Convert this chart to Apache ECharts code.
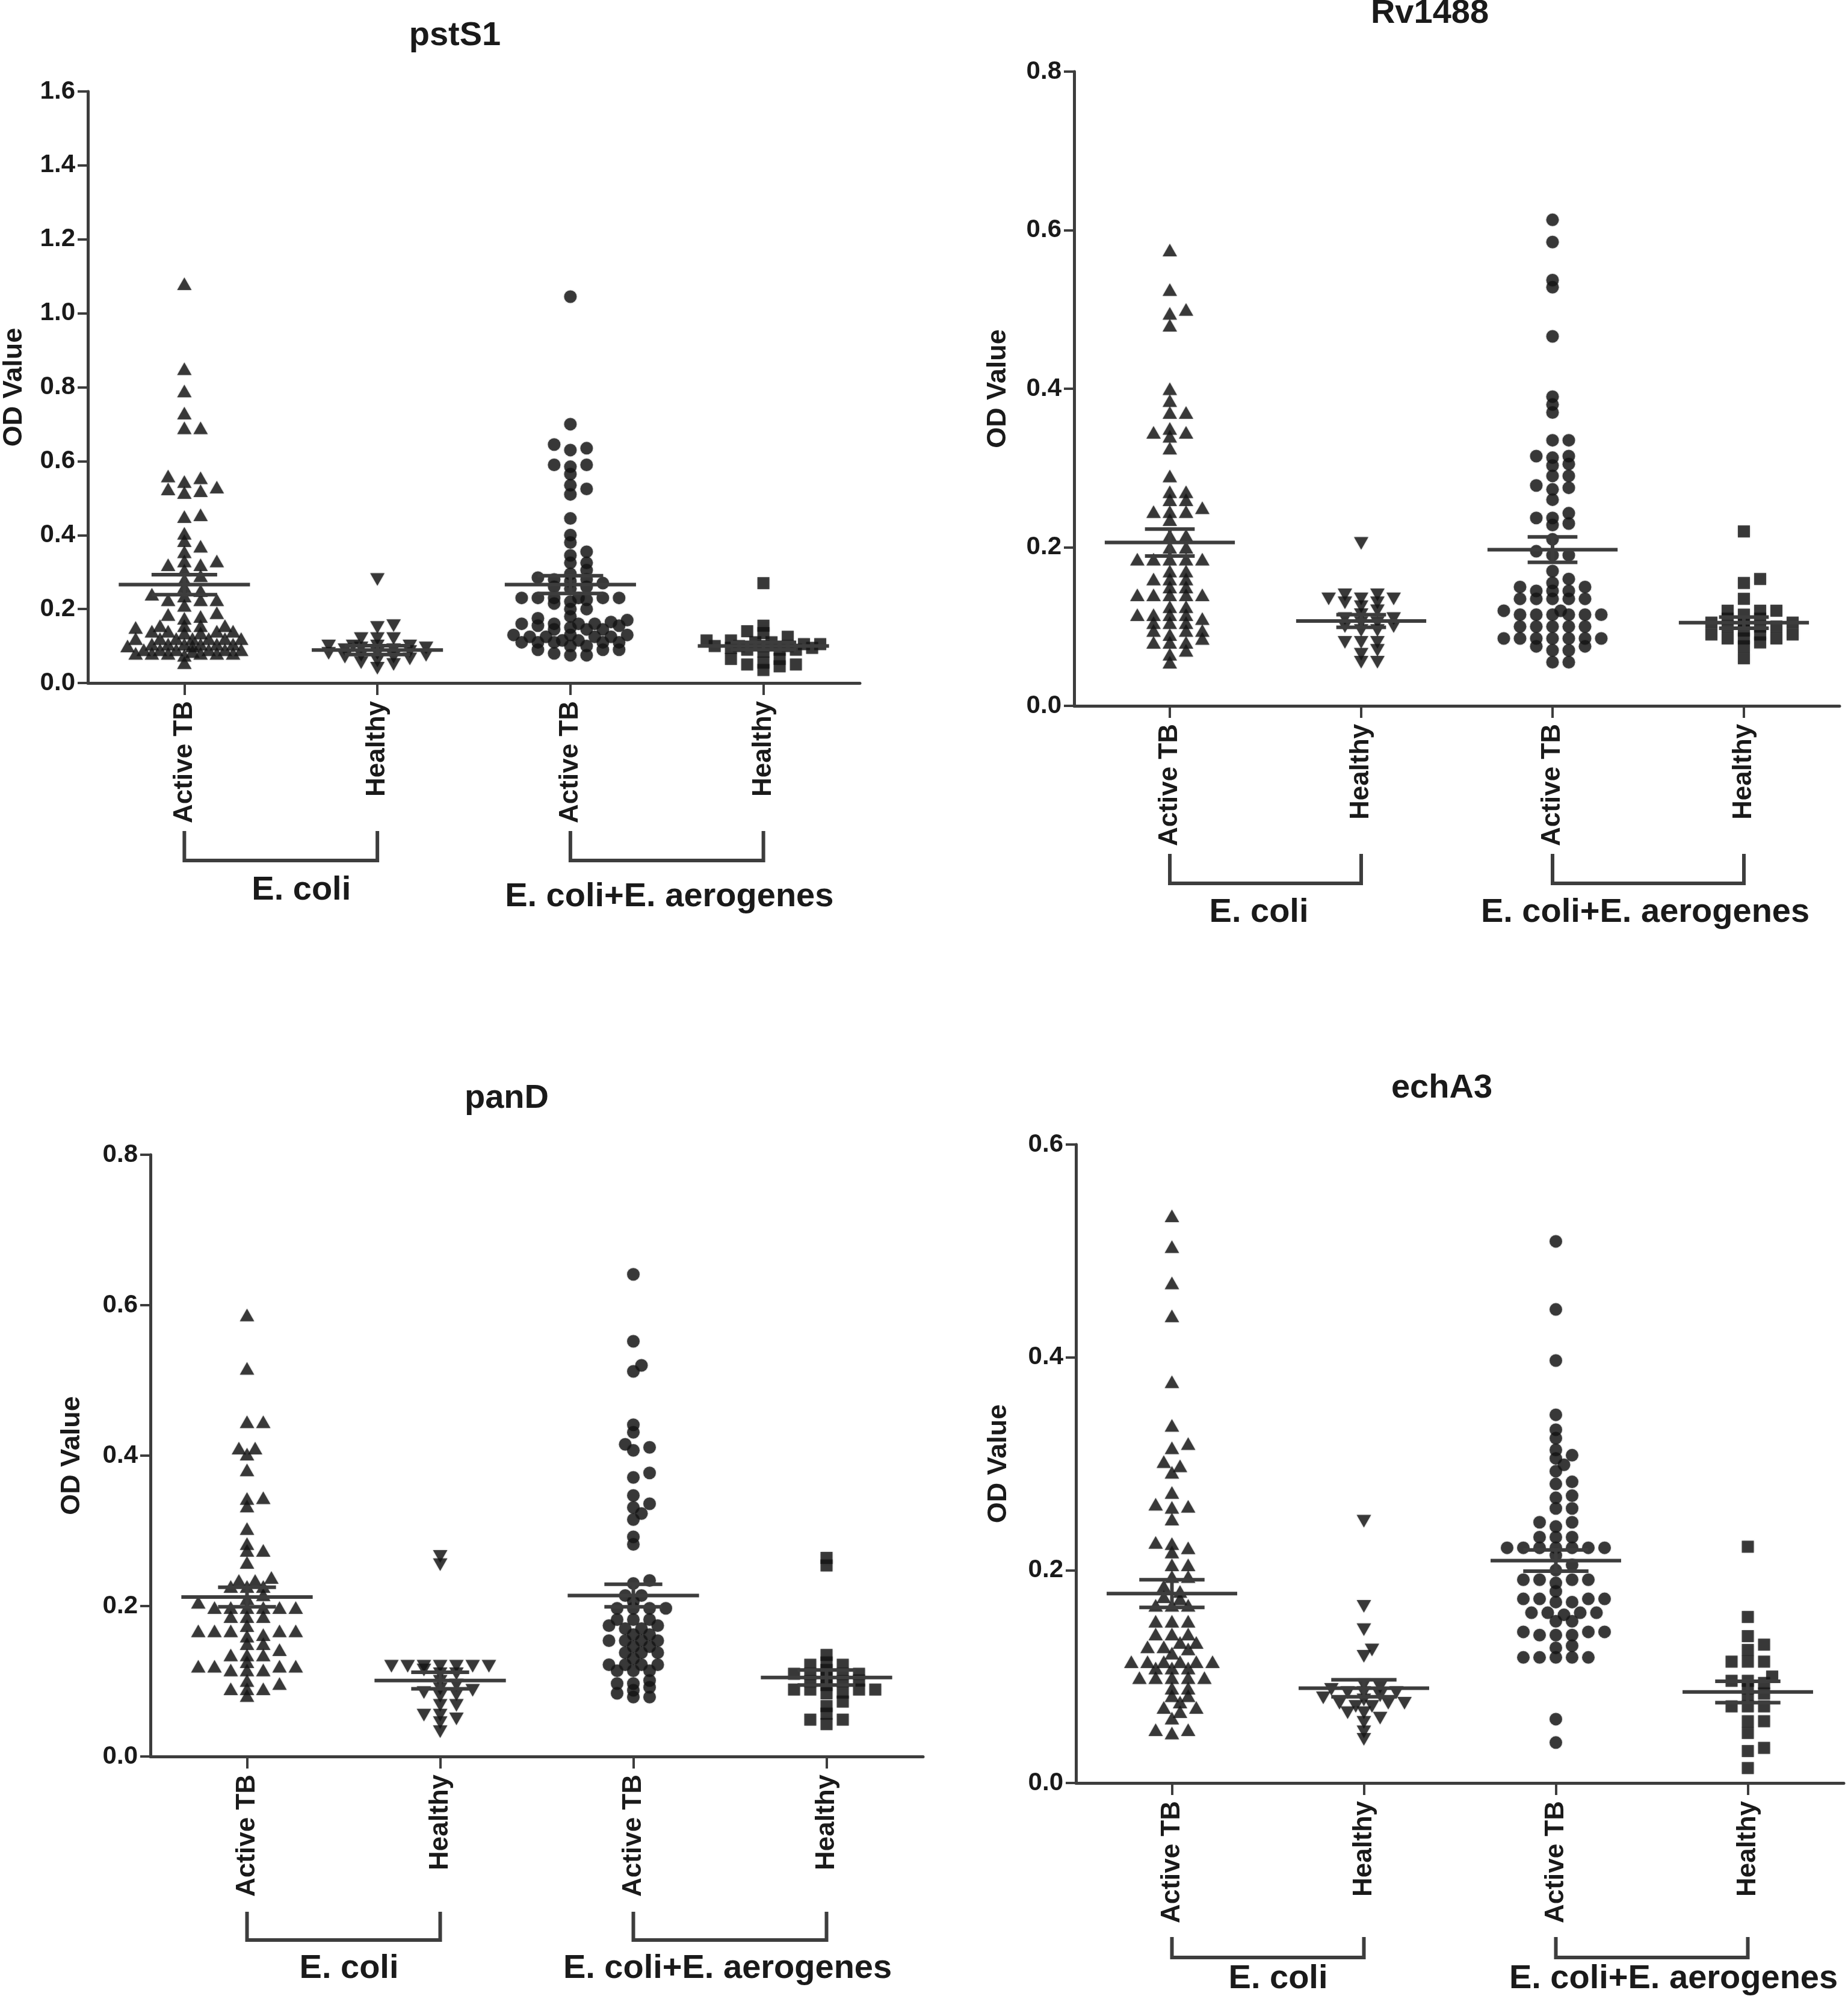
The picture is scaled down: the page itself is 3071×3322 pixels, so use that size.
<!DOCTYPE html>
<html><head><meta charset="utf-8">
<script src="https://cdn.jsdelivr.net/npm/echarts@6/dist/echarts.min.js"></script>
<style>html,body{margin:0;padding:0;background:#fff}#c{width:3071px;height:3322px}</style>
</head><body><div id="c"></div>
<script>
// ---------------- DATA ----------------
const categories = ['Active TB', 'Healthy', 'Active TB', 'Healthy'];
const groupLabels = ['E. coli', 'E. coli+E. aerogenes'];
const panelTitles = ['pstS1', 'Rv1488', 'panD', 'echA3'];
const yAxisName = 'OD Value';
const yMaxes = [1.6, 0.8, 0.8, 0.6];
const yInterval = 0.2;

// pstS1
const pstS1_activeEcoli = [1.08,0.85,0.79,0.73,0.69,0.69,0.56,0.555,0.545,0.53,0.525,0.515,0.52,0.455,0.45,0.405,0.385,0.37,0.355,0.33,0.33,0.32,0.32,0.305,0.29,0.28,0.26,0.25,0.24,0.235,0.225,0.225,0.225,0.21,0.19,0.185,0.18,0.175,0.155,0.155,0.155,0.155,0.15,0.14,0.14,0.14,0.14,0.135,0.135,0.12,0.12,0.12,0.12,0.12,0.12,0.12,0.105,0.105,0.105,0.105,0.105,0.105,0.1,0.1,0.09,0.09,0.09,0.09,0.09,0.09,0.085,0.08,0.08,0.08,0.08,0.08,0.08,0.075,0.055];
const pstS1_healthyEcoli = [0.28,0.155,0.15,0.12,0.12,0.12,0.1,0.1,0.1,0.1,0.095,0.095,0.09,0.09,0.085,0.08,0.08,0.075,0.075,0.07,0.07,0.065,0.06,0.055,0.05,0.04];
const pstS1_activeMix = [1.045,0.70,0.645,0.635,0.63,0.59,0.585,0.59,0.565,0.535,0.525,0.51,0.445,0.40,0.38,0.355,0.345,0.325,0.325,0.305,0.295,0.285,0.28,0.28,0.275,0.27,0.26,0.26,0.255,0.23,0.23,0.23,0.23,0.225,0.23,0.23,0.22,0.215,0.2,0.2,0.18,0.175,0.17,0.165,0.16,0.16,0.16,0.16,0.155,0.155,0.15,0.145,0.145,0.145,0.13,0.13,0.13,0.125,0.125,0.125,0.125,0.115,0.115,0.11,0.11,0.11,0.11,0.11,0.1,0.1,0.09,0.09,0.09,0.08,0.075,0.075];
const pstS1_healthyMix = [0.27,0.155,0.14,0.135,0.125,0.115,0.115,0.11,0.11,0.105,0.105,0.1,0.1,0.1,0.1,0.095,0.095,0.09,0.09,0.09,0.085,0.065,0.065,0.055,0.05,0.05,0.045,0.035];
const pstS1_mean = [0.266, 0.089, 0.266, 0.100];
const pstS1_sem = [0.027, 0.012, 0.024, 0.010];

// Rv1488
const rv1488_activeEcoli = [0.575,0.525,0.495,0.5,0.48,0.40,0.385,0.37,0.37,0.345,0.35,0.34,0.345,0.325,0.29,0.27,0.27,0.26,0.26,0.245,0.245,0.245,0.25,0.235,0.215,0.215,0.2,0.2,0.185,0.185,0.185,0.185,0.185,0.17,0.17,0.16,0.16,0.16,0.15,0.15,0.14,0.14,0.14,0.14,0.14,0.125,0.125,0.115,0.115,0.115,0.115,0.11,0.105,0.105,0.105,0.095,0.095,0.095,0.09,0.085,0.08,0.08,0.08,0.07,0.065,0.055];
const rv1488_healthyEcoli = [0.205,0.14,0.135,0.135,0.13,0.13,0.135,0.14,0.125,0.12,0.115,0.11,0.11,0.105,0.105,0.1,0.1,0.095,0.095,0.08,0.08,0.08,0.07,0.065,0.055,0.055];
const rv1488_activeMix = [0.613,0.585,0.528,0.537,0.466,0.39,0.38,0.37,0.335,0.335,0.315,0.315,0.313,0.305,0.303,0.29,0.29,0.275,0.278,0.273,0.26,0.237,0.237,0.243,0.228,0.23,0.21,0.19,0.19,0.195,0.17,0.16,0.155,0.15,0.15,0.145,0.145,0.145,0.135,0.135,0.135,0.135,0.135,0.12,0.12,0.115,0.115,0.115,0.115,0.115,0.115,0.1,0.1,0.1,0.1,0.1,0.085,0.085,0.085,0.085,0.085,0.085,0.085,0.075,0.075,0.07,0.07,0.055,0.055];
const rv1488_healthyMix = [0.22,0.16,0.155,0.135,0.12,0.12,0.12,0.115,0.11,0.11,0.105,0.105,0.105,0.1,0.1,0.1,0.095,0.09,0.09,0.09,0.085,0.085,0.085,0.08,0.075,0.06];
const rv1488_mean = [0.206, 0.107, 0.197, 0.105];
const rv1488_sem = [0.017, 0.008, 0.016, 0.007];

// panD
const panD_activeEcoli = [0.587,0.516,0.445,0.445,0.41,0.41,0.402,0.381,0.343,0.344,0.333,0.303,0.274,0.274,0.283,0.258,0.238,0.234,0.234,0.226,0.226,0.226,0.215,0.21,0.205,0.198,0.198,0.198,0.198,0.198,0.198,0.186,0.186,0.186,0.174,0.167,0.167,0.167,0.167,0.167,0.162,0.16,0.15,0.15,0.142,0.135,0.135,0.135,0.126,0.12,0.12,0.12,0.12,0.115,0.115,0.115,0.097,0.101,0.09,0.09,0.09,0.081];
const panD_healthyEcoli = [0.266,0.255,0.12,0.12,0.12,0.12,0.12,0.12,0.12,0.115,0.11,0.11,0.1,0.095,0.09,0.088,0.085,0.082,0.08,0.068,0.068,0.055,0.055,0.05,0.045,0.033];
const panD_activeMix = [0.641,0.552,0.52,0.512,0.441,0.431,0.415,0.407,0.411,0.377,0.371,0.347,0.336,0.331,0.323,0.315,0.292,0.282,0.234,0.23,0.214,0.214,0.206,0.197,0.197,0.197,0.197,0.182,0.182,0.182,0.174,0.174,0.17,0.17,0.162,0.162,0.154,0.154,0.154,0.154,0.146,0.146,0.138,0.138,0.138,0.13,0.122,0.122,0.122,0.122,0.114,0.114,0.114,0.101,0.097,0.097,0.092,0.088,0.084,0.079,0.079];
const panD_healthyMix = [0.264,0.254,0.135,0.125,0.122,0.122,0.115,0.11,0.11,0.11,0.11,0.105,0.101,0.1,0.1,0.095,0.089,0.089,0.089,0.089,0.085,0.084,0.073,0.067,0.057,0.049,0.049,0.043];
const panD_mean = [0.212, 0.101, 0.214, 0.105];
const panD_sem = [0.013, 0.011, 0.015, 0.010];

// echA3
const echA3_activeEcoli = [0.533,0.504,0.47,0.439,0.377,0.336,0.319,0.315,0.302,0.298,0.292,0.273,0.259,0.26,0.262,0.248,0.225,0.226,0.221,0.217,0.205,0.205,0.194,0.194,0.185,0.18,0.173,0.175,0.167,0.167,0.167,0.152,0.152,0.152,0.14,0.14,0.14,0.132,0.132,0.126,0.128,0.128,0.122,0.114,0.114,0.114,0.114,0.114,0.114,0.108,0.108,0.108,0.099,0.099,0.099,0.099,0.099,0.089,0.089,0.082,0.082,0.076,0.071,0.071,0.067,0.061,0.05,0.05,0.047];
const echA3_healthyEcoli = [0.246,0.166,0.144,0.125,0.119,0.092,0.09,0.088,0.085,0.085,0.085,0.082,0.08,0.078,0.075,0.075,0.075,0.072,0.072,0.066,0.066,0.061,0.057,0.048,0.041];
const echA3_activeMix = [0.509,0.445,0.397,0.346,0.332,0.324,0.308,0.305,0.313,0.299,0.293,0.283,0.281,0.27,0.268,0.258,0.258,0.245,0.245,0.241,0.231,0.231,0.231,0.221,0.221,0.221,0.221,0.221,0.221,0.221,0.214,0.205,0.2,0.191,0.191,0.191,0.191,0.188,0.18,0.173,0.173,0.173,0.173,0.17,0.17,0.16,0.16,0.16,0.16,0.158,0.152,0.152,0.142,0.142,0.142,0.139,0.139,0.139,0.129,0.127,0.118,0.118,0.118,0.118,0.118,0.06,0.038];
const echA3_healthyMix = [0.222,0.156,0.138,0.13,0.125,0.114,0.114,0.114,0.1,0.096,0.096,0.094,0.089,0.084,0.08,0.072,0.072,0.072,0.058,0.058,0.047,0.033,0.03,0.014];
const echA3_mean = [0.178, 0.089, 0.209, 0.0855];
const echA3_sem = [0.013, 0.008, 0.010, 0.010];

// ---------------- LAYOUT / STYLE ----------------
const FONT = '"Liberation Sans", Arial, Helvetica, sans-serif';
const TXT = '#1a1a1a';
const AX = '#3d3d3d';
const PT = '#151515';

const panels = [
  { title: panelTitles[0], yMax: yMaxes[0], groups: [pstS1_activeEcoli, pstS1_healthyEcoli, pstS1_activeMix, pstS1_healthyMix], mean: pstS1_mean, sem: pstS1_sem },
  { title: panelTitles[1], yMax: yMaxes[1], groups: [rv1488_activeEcoli, rv1488_healthyEcoli, rv1488_activeMix, rv1488_healthyMix], mean: rv1488_mean, sem: rv1488_sem },
  { title: panelTitles[2], yMax: yMaxes[2], groups: [panD_activeEcoli, panD_healthyEcoli, panD_activeMix, panD_healthyMix], mean: panD_mean, sem: panD_sem },
  { title: panelTitles[3], yMax: yMaxes[3], groups: [echA3_activeEcoli, echA3_healthyEcoli, echA3_activeMix, echA3_healthyMix], mean: echA3_mean, sem: echA3_sem }
];

const layout = [
  { left: 145, catW: 321, top: 152, y0: 1135, title: [756, 60], nameGap: 100, brk: [246, 295], lab: [[34, 345], [4, 356]], whisk: 0.17 },
  { left: 1785, catW: 318, top: 119, y0: 1173, title: [2376, 23], nameGap: 104, brk: [246, 295], lab: [[-11, 344], [-5, 344]], whisk: 0.13 },
  { left: 250, catW: 321, top: 1919, y0: 2919, title: [842, 1826], nameGap: 108, brk: [258, 305], lab: [[9, 353], [-4, 353]], whisk: 0.15 },
  { left: 1788, catW: 319, top: 1902, y0: 2963, title: [2396, 1809], nameGap: 106, brk: [256, 290], lab: [[17, 326], [36, 326]], whisk: 0.17 }
];

const symbols = ['triangle', 'triangle', 'circle', 'rect'];
const symRot = [0, 180, 0, 0];
const symSize = [[24, 21], [24, 21], 21, 20];

// beeswarm offsets (layout only), returned in category units
function swarm(values, pxPerVal, catW) {
  const sx = 27, sy = 11, maxOff = 0.3 * catW;
  const order = values.map((v, i) => i).sort((a, b) => values[a] - values[b]);
  const placed = [];
  const out = new Array(values.length).fill(0);
  const cands = [0];
  for (let k = 1; k * sx / 2 <= maxOff; k++) { cands.push(k * sx / 2); cands.push(-k * sx / 2); }
  for (const i of order) {
    const y = values[i] * pxPerVal;
    let best = 0, bestScore = Infinity;
    for (const off of cands) {
      let worst = 0;
      for (const p of placed) {
        const dx = (p.x - off) / sx, dy = (p.y - y) / sy;
        const d2 = dx * dx + dy * dy;
        if (d2 < 0.999) worst = Math.max(worst, 1 - d2);
      }
      if (worst === 0) { best = off; bestScore = 0; break; }
      if (worst < bestScore - 1e-9) { bestScore = worst; best = off; }
    }
    placed.push({ x: best, y });
    out[i] = best / catW;
  }
  return out;
}

const grid = [], xAxis = [], yAxis = [], series = [];
panels.forEach((P, p) => {
  const L = layout[p];
  const h = L.y0 - L.top;
  grid.push({ left: L.left, top: L.top, width: 4 * L.catW, height: h, containLabel: false });
  xAxis.push({
    type: 'category', gridIndex: p, data: categories, boundaryGap: true,
    axisLine: { show: true, onZero: false, lineStyle: { color: AX, width: 5 } },
    axisTick: { show: true, alignWithLabel: true, length: 20, lineStyle: { color: AX, width: 4 } },
    axisLabel: { rotate: 90, margin: 30, fontFamily: FONT, fontWeight: 'bold', fontSize: 44, color: TXT, interval: 0 },
    splitLine: { show: false }
  });
  xAxis.push({ type: 'value', gridIndex: p, min: -0.5, max: 3.5, show: false, axisLine: { onZero: false } });
  yAxis.push({
    type: 'value', gridIndex: p, min: 0, max: P.yMax, interval: yInterval,
    name: yAxisName, nameLocation: 'middle', nameGap: L.nameGap,
    nameTextStyle: { fontFamily: FONT, fontWeight: 'bold', fontSize: 45, color: TXT },
    axisLine: { show: true, onZero: false, lineStyle: { color: AX, width: 5 } },
    axisTick: { show: true, length: 17, lineStyle: { color: AX, width: 4 } },
    axisLabel: { margin: 21, fontFamily: FONT, fontWeight: 'bold', fontSize: 42, color: TXT, formatter: v => v.toFixed(1) },
    splitLine: { show: false }
  });
  const pxPerVal = h / P.yMax;
  P.groups.forEach((vals, g) => {
    const offs = swarm(vals, pxPerVal, L.catW);
    series.push({
      type: 'scatter', xAxisIndex: 2 * p + 1, yAxisIndex: p,
      symbol: symbols[g], symbolRotate: symRot[g], symbolSize: symSize[g],
      itemStyle: { color: PT, shadowBlur: 3, shadowColor: 'rgba(0,0,0,0.3)' },
      data: vals.map((v, i) => [g + offs[i], v]), z: 2, silent: true, animation: false
    });
  });
  const W = L.whisk;
  series.push({
    type: 'custom', xAxisIndex: 2 * p + 1, yAxisIndex: p, z: 5, silent: true, animation: false,
    data: P.mean.map((m, i) => [i, m, P.sem[i]]),
    renderItem: (params, api) => {
      const x = api.value(0), m = api.value(1), s = api.value(2);
      const st = { stroke: AX, lineWidth: 6, lineCap: 'butt' };
      const seg = (a, b) => ({ type: 'line', shape: { x1: a[0], y1: a[1], x2: b[0], y2: b[1] }, style: st });
      return { type: 'group', children: [
        seg(api.coord([x - 0.34, m]), api.coord([x + 0.34, m])),
        seg(api.coord([x - W, m + s]), api.coord([x + W, m + s])),
        seg(api.coord([x - W, m - s]), api.coord([x + W, m - s])),
        seg(api.coord([x, m + s]), api.coord([x, m - s]))
      ] };
    }
  });
});

const chart = echarts.init(document.getElementById('c'), null, { renderer: 'canvas' });
chart.setOption({ animation: false, backgroundColor: '#ffffff', grid, xAxis, yAxis, series });

// titles, group brackets and group labels (positioned through axis conversion)
const graphic = [];
panels.forEach((P, p) => {
  const L = layout[p];
  graphic.push({ type: 'text', x: L.title[0], y: L.title[1], style: { text: P.title, fontFamily: FONT, fontWeight: 'bold', fontSize: 56, fill: TXT, align: 'center', verticalAlign: 'middle' } });
  const finder = { xAxisIndex: 2 * p + 1, yAxisIndex: p };
  [[0, 1], [2, 3]].forEach((pair, k) => {
    const a = chart.convertToPixel(finder, [pair[0], 0]);
    const b = chart.convertToPixel(finder, [pair[1], 0]);
    const yT = a[1] + L.brk[0], yB = a[1] + L.brk[1];
    graphic.push({ type: 'polyline', shape: { points: [[a[0], yT], [a[0], yB], [b[0], yB], [b[0], yT]] }, style: { stroke: AX, lineWidth: 6, fill: null } });
    graphic.push({ type: 'text', x: (a[0] + b[0]) / 2 + L.lab[k][0], y: a[1] + L.lab[k][1], style: { text: groupLabels[k], fontFamily: FONT, fontWeight: 'bold', fontSize: 56, fill: TXT, align: 'center', verticalAlign: 'middle' } });
  });
});
chart.setOption({ graphic });
</script>
</body></html>
